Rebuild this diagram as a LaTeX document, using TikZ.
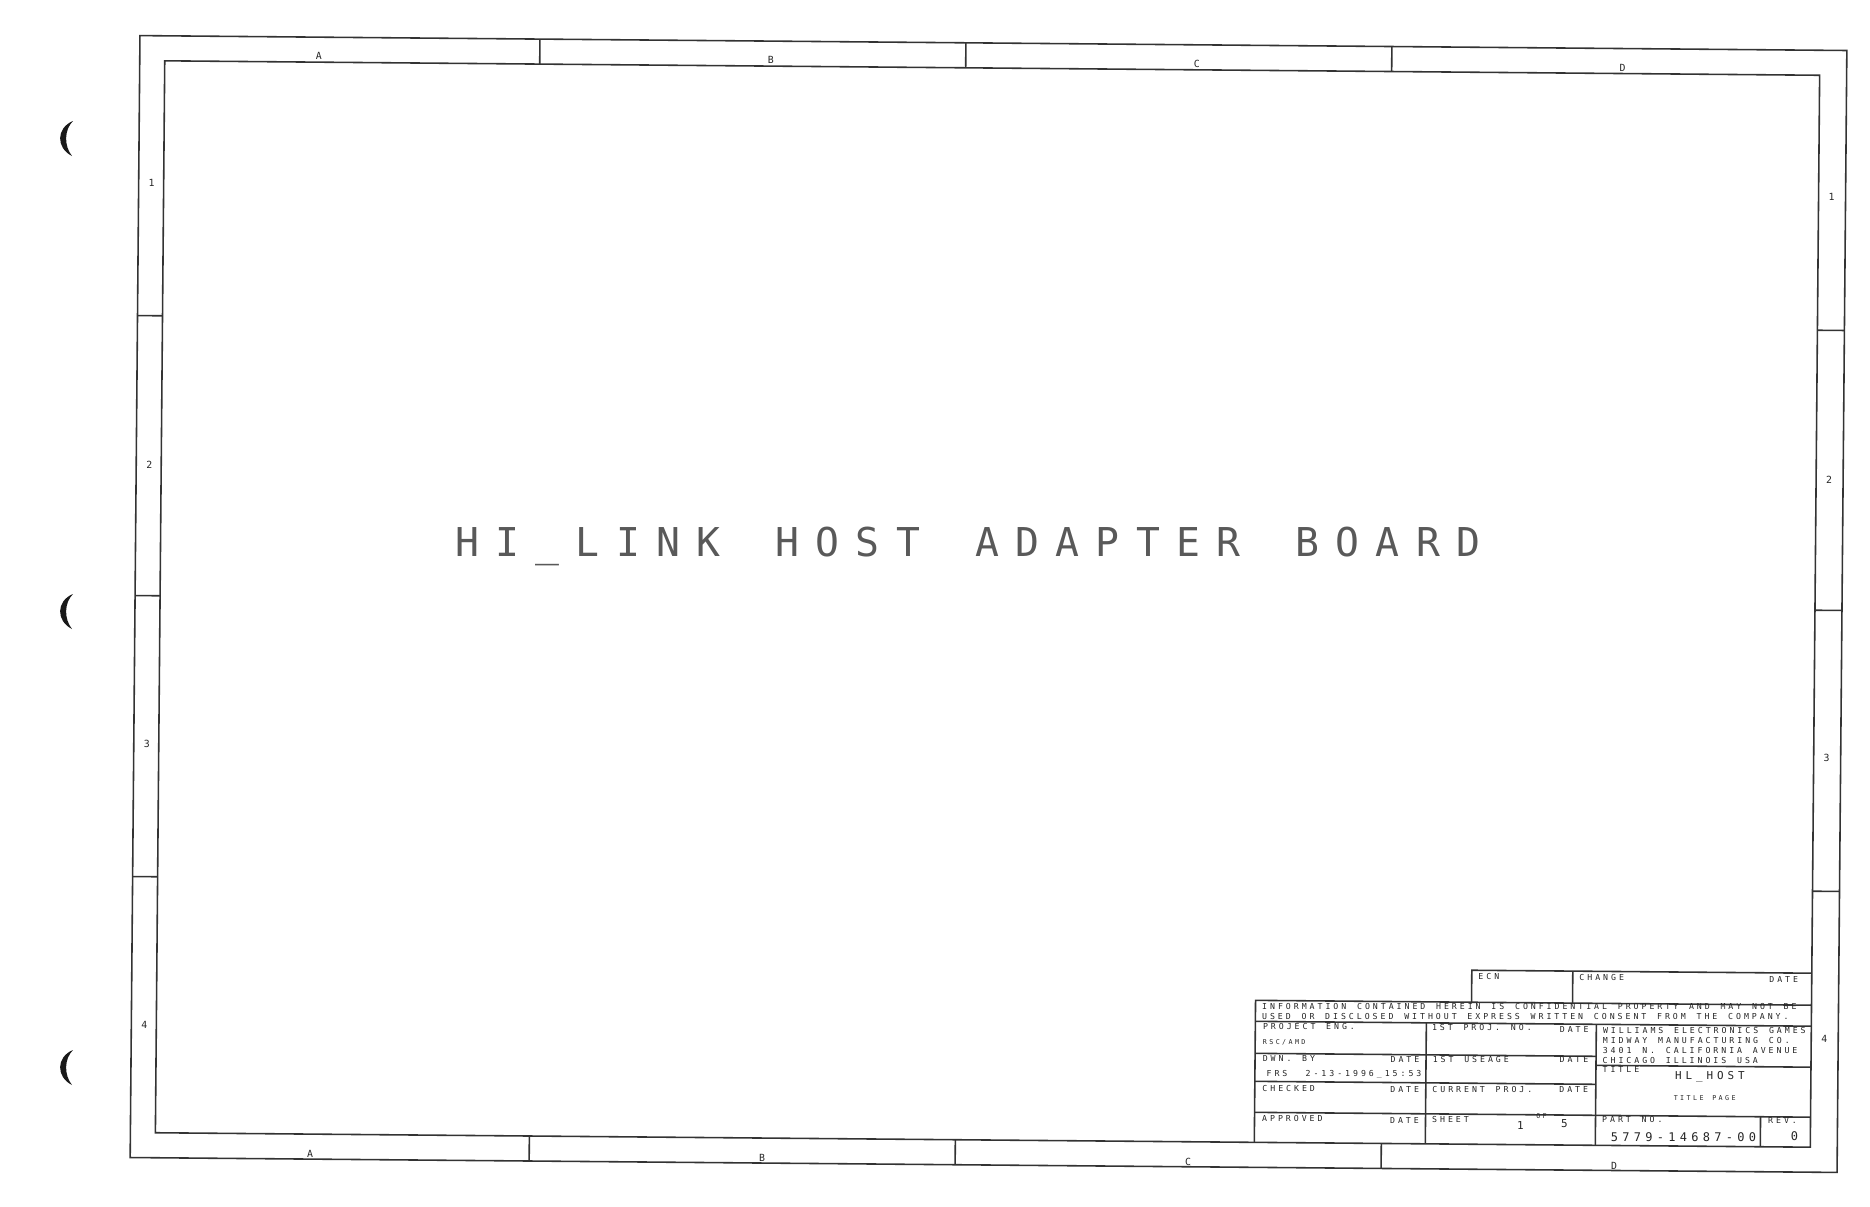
\documentclass[tikz,border=0pt]{standalone}
\usepackage{fontspec}
\newfontfamily\plotfont{DejaVu Sans Mono}[LetterSpace=36, WordSpace=1.36]
\newfontfamily\bigplotfont{DejaVu Sans Mono}[LetterSpace=41, WordSpace=1.37]

\begin{document}
\begin{tikzpicture}[x=0.01cm, y=-0.01cm,
    frame/.style={draw=black!80, line width=0.45pt},
    txt/.style={inner sep=0pt, text depth=0pt, text=black!85, font=\plotfont\fontsize{2.34}{3}\selectfont},
    smalltxt/.style={txt, font=\plotfont\fontsize{1.9}{2.4}\selectfont},
    midtxt/.style={txt, font=\plotfont\fontsize{3.1}{3.8}\selectfont},
    bigtxt/.style={txt, font=\plotfont\fontsize{3.4}{4}\selectfont},
    zone/.style={txt, font=\plotfont\fontsize{2.8}{3.4}\selectfont},
    titletxt/.style={txt, text=black!65, font=\bigplotfont\fontsize{11.3}{13}\selectfont}]

    \useasboundingbox[fill=white] (0,0) rectangle (1870,1206);

    % binder hole marks in the margin
    \foreach \y in {138, 611, 1067} {
        \fill[black!90] (73,\y-17) .. controls (56,\y-10) and (56,\y+10) .. (72,\y+18)
            .. controls (64,\y+8) and (64,\y-8) .. cycle;
    }

    \begin{scope}[rotate around={-0.5:(988,604)}]
        % sheet frame
        \draw[frame] (135,43) rectangle (1842,1165);
        \draw[frame] (160,68) rectangle (1815,1140);

        % zone ticks
        \foreach \x in {535, 961, 1387} {
            \draw[frame] (\x,43) -- (\x,68);
            \draw[frame] (\x-1,1140) -- (\x-1,1165);
        }
        \foreach \y in {323, 603, 884} {
            \draw[frame] (135,\y) -- (160,\y);
            \draw[frame] (1815,\y) -- (1842,\y);
        }

        % zone letters and numbers
        \foreach \x/\l in {314/A, 766/B, 1192/C, 1618/D} {
            \node[zone] (top\l) at (\x,62) {\l};
            \node[zone] (bot\l) at (\x+1,1160) {\l};
        }
        \foreach \y/\n in {190/1, 472/2, 751/3, 1032/4} {
            \node[zone] (left\n) at (148,\y) {\n};
            \node[zone] (right\n) at (1828,\y) {\n};
        }

        % drawing title
        \node[titletxt, anchor=west] (title) at (454,546) {HI\_LINK HOST ADAPTER BOARD};

        % title block lines
        \draw[frame] (1475,998) -- (1475,966) -- (1815,966);
        \draw[frame] (1576,966) -- (1576,998);
        \draw[frame] (1259,1140) -- (1259,998) -- (1815,998);
        \draw[frame] (1259,1019) -- (1815,1019);
        \foreach \y in {1051, 1079} {
            \draw[frame] (1259,\y) -- (1600,\y);
        }
        \draw[frame] (1259,1110) -- (1815,1110);
        \draw[frame] (1600,1060) -- (1815,1060);
        \draw[frame] (1430,1019) -- (1430,1140);
        \draw[frame] (1600,1019) -- (1600,1140);
        \draw[frame] (1765,1110) -- (1765,1140);

        % title block texts
        \node[txt, anchor=west] (ecn) at (1481,972) {ECN};
        \node[txt, anchor=west] (change) at (1582,972) {CHANGE};
        \node[txt, anchor=east] (chgdate) at (1802,972) {DATE};
        \node[txt, anchor=west] (info1) at (1265,1004) {INFORMATION CONTAINED HEREIN IS CONFIDENTIAL PROPERTY AND MAY NOT BE};
        \node[txt, anchor=west] (info2) at (1265,1014) {USED OR DISCLOSED WITHOUT EXPRESS WRITTEN CONSENT FROM THE COMPANY.};

        \node[txt, anchor=west] (projeng) at (1266,1024.5) {PROJECT ENG.};
        \node[smalltxt, anchor=west] (rsc) at (1266,1039.5) {RSC/AMD};
        \node[txt, anchor=west] (dwn) at (1266,1056) {DWN. BY};
        \node[txt, anchor=east] (dwndate) at (1424,1056) {DATE};
        \node[txt, anchor=west] (frs) at (1270,1071) {FRS};
        \node[txt, anchor=west] (stamp) at (1309,1071) {2-13-1996\_15:53};
        \node[txt, anchor=west] (checked) at (1266,1086) {CHECKED};
        \node[txt, anchor=east] (chkdate) at (1424,1086) {DATE};
        \node[txt, anchor=west] (approved) at (1266,1116.5) {APPROVED};
        \node[txt, anchor=east] (appdate) at (1424,1117) {DATE};

        \node[txt, anchor=west] (proj) at (1435,1024) {1ST PROJ. NO.};
        \node[txt, anchor=east] (projdate) at (1593,1024.5) {DATE};
        \node[txt, anchor=west] (usage) at (1436,1055.5) {1ST USEAGE};
        \node[txt, anchor=east] (usedate) at (1593,1054.5) {DATE};
        \node[txt, anchor=west] (current) at (1436,1085.5) {CURRENT PROJ.};
        \node[txt, anchor=east] (curdate) at (1593,1084.5) {DATE};
        \node[txt, anchor=west] (sheet) at (1436,1116) {SHEET};
        \node[midtxt] (sheetno) at (1525,1121) {1};
        \node[smalltxt] (of) at (1546,1111.5) {OF};
        \node[midtxt] (sheets) at (1569,1118) {5};

        \node[txt, anchor=west] (co1) at (1606,1025) {WILLIAMS ELECTRONICS GAMES};
        \node[txt, anchor=west] (co2) at (1606,1035.5) {MIDWAY MANUFACTURING CO.};
        \node[txt, anchor=west] (co3) at (1606,1045.5) {3401 N. CALIFORNIA AVENUE};
        \node[txt, anchor=west] (co4) at (1606,1055.5) {CHICAGO ILLINOIS USA};
        \node[txt, anchor=west] (titlelbl) at (1606,1064.5) {TITLE};
        \node[midtxt] (hlhost) at (1714,1069.5) {HL\_HOST};
        \node[smalltxt] (titlepage) at (1709,1091.5) {TITLE PAGE};
        \node[txt, anchor=west] (partlbl) at (1606,1114.5) {PART NO.};
        \node[txt, anchor=west] (revlbl) at (1772,1113.5) {REV.};
        \node[bigtxt] (partno) at (1688,1130.5) {5779-14687-00};
        \node[bigtxt] (rev) at (1799,1129) {0};
    \end{scope}
\end{tikzpicture}
\end{document}
